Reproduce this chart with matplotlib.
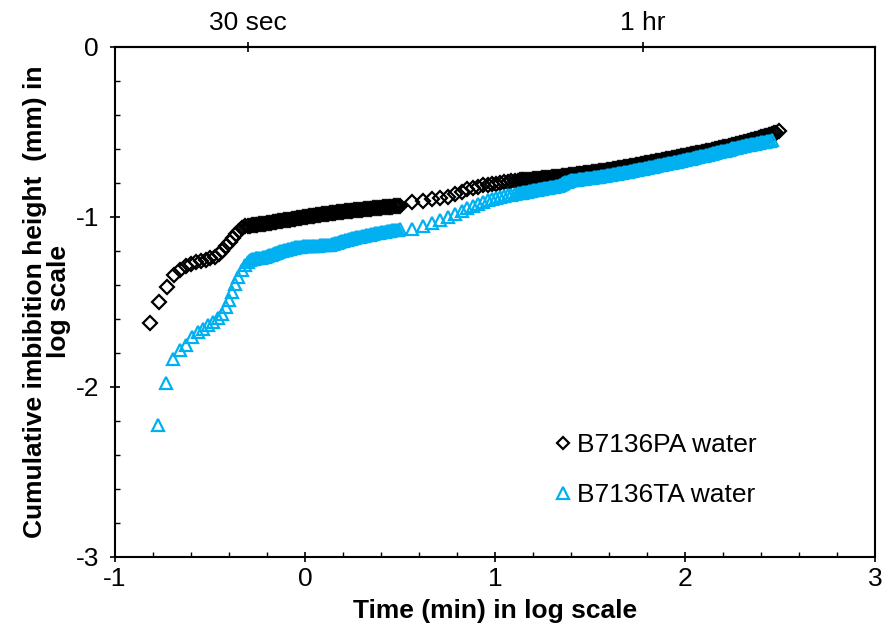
import numpy as np
import matplotlib
matplotlib.use("Agg")
import matplotlib.pyplot as plt
from matplotlib.ticker import MultipleLocator

# ---- datos (log10 tiempo [min], log10 altura [mm]) ----
# tramo inicial, muestras separadas
pa_logt_ini = [-0.818, -0.770, -0.728, -0.691, -0.658, -0.628, -0.599, -0.572, -0.546, -0.521, -0.498,
               -0.476, -0.455, -0.435, -0.416, -0.397, -0.379, -0.362, -0.346, -0.331, -0.316, -0.301]
pa_logh_ini = [-1.625, -1.500, -1.412, -1.343, -1.309, -1.291, -1.275, -1.263, -1.256, -1.251, -1.244,
               -1.233, -1.218, -1.198, -1.173, -1.148, -1.123, -1.100, -1.080, -1.064, -1.055, -1.051]

ta_logt_ini = [-0.772, -0.730, -0.693, -0.658, -0.625, -0.595, -0.565, -0.537, -0.510, -0.484,
               -0.458, -0.437, -0.418, -0.400, -0.383, -0.366, -0.350, -0.334, -0.318, -0.302]
ta_logh_ini = [-2.224, -1.978, -1.838, -1.782, -1.753, -1.703, -1.677, -1.656, -1.636, -1.617,
               -1.597, -1.568, -1.528, -1.488, -1.440, -1.392, -1.352, -1.313, -1.283, -1.262]

# banda densa (30 s a 3 min)
logt_banda = [-0.29, -0.28, -0.27, -0.26, -0.25, -0.24, -0.23, -0.22, -0.21, -0.20,
              -0.19, -0.18, -0.17, -0.16, -0.15, -0.14, -0.13, -0.12, -0.11, -0.10,
              -0.09, -0.08, -0.07, -0.06, -0.05, -0.04, -0.03, -0.02, -0.01, 0.00,
              0.01, 0.02, 0.03, 0.04, 0.05, 0.06, 0.07, 0.08, 0.09, 0.10,
              0.11, 0.12, 0.13, 0.14, 0.15, 0.16, 0.17, 0.18, 0.19, 0.20,
              0.21, 0.22, 0.23, 0.24, 0.25, 0.26, 0.27, 0.28, 0.29, 0.30,
              0.31, 0.32, 0.33, 0.34, 0.35, 0.36, 0.37, 0.38, 0.39, 0.40,
              0.41, 0.42, 0.43, 0.44, 0.45, 0.46, 0.47, 0.48, 0.49, 0.50]
pa_logh_banda = [-1.050, -1.049, -1.047, -1.046, -1.045, -1.044, -1.042, -1.041, -1.039, -1.037,
                 -1.035, -1.033, -1.031, -1.029, -1.027, -1.025, -1.024, -1.022, -1.020, -1.019,
                 -1.017, -1.015, -1.013, -1.011, -1.009, -1.007, -1.005, -1.004, -1.002, -1.000,
                 -0.998, -0.997, -0.995, -0.993, -0.992, -0.990, -0.988, -0.987, -0.985, -0.984,
                 -0.982, -0.980, -0.978, -0.977, -0.975, -0.974, -0.972, -0.971, -0.970, -0.968,
                 -0.967, -0.966, -0.964, -0.963, -0.962, -0.961, -0.959, -0.958, -0.957, -0.956,
                 -0.955, -0.954, -0.953, -0.952, -0.950, -0.949, -0.948, -0.947, -0.946, -0.945,
                 -0.944, -0.943, -0.942, -0.941, -0.940, -0.939, -0.937, -0.936, -0.935, -0.933]
ta_logh_banda = [-1.255, -1.248, -1.245, -1.243, -1.242, -1.240, -1.239, -1.237, -1.234, -1.230,
                 -1.226, -1.222, -1.218, -1.214, -1.210, -1.206, -1.202, -1.199, -1.195, -1.192,
                 -1.189, -1.186, -1.183, -1.181, -1.179, -1.177, -1.175, -1.174, -1.173, -1.172,
                 -1.171, -1.170, -1.170, -1.169, -1.169, -1.168, -1.168, -1.167, -1.167, -1.166,
                 -1.165, -1.164, -1.162, -1.160, -1.157, -1.154, -1.151, -1.148, -1.144, -1.141,
                 -1.138, -1.135, -1.132, -1.129, -1.126, -1.123, -1.120, -1.118, -1.115, -1.113,
                 -1.110, -1.108, -1.106, -1.104, -1.101, -1.099, -1.097, -1.095, -1.093, -1.091,
                 -1.089, -1.087, -1.085, -1.083, -1.081, -1.079, -1.077, -1.075, -1.074, -1.072]

# cada 30 s (3.7 a 13 min)
logt_30s = [0.564, 0.620, 0.669, 0.713, 0.753, 0.790, 0.824, 0.855, 0.885, 0.912,
            0.938, 0.962, 0.985, 1.007, 1.028, 1.048, 1.067, 1.085, 1.103, 1.120]
pa_logh_30s = [-0.912, -0.903, -0.897, -0.890, -0.880, -0.867, -0.850, -0.836, -0.828, -0.821,
               -0.814, -0.810, -0.806, -0.803, -0.800, -0.797, -0.794, -0.791, -0.788, -0.786]
ta_logh_30s = [-1.070, -1.050, -1.035, -1.020, -1.000, -0.982, -0.965, -0.948, -0.933, -0.921,
               -0.911, -0.902, -0.895, -0.889, -0.883, -0.878, -0.873, -0.868, -0.863, -0.859]

# tramo final (13 min a 5 h)
logt_fin = [1.13, 1.14, 1.15, 1.16, 1.17, 1.18, 1.19, 1.20, 1.21, 1.22,
            1.23, 1.24, 1.25, 1.26, 1.27, 1.28, 1.29, 1.30, 1.31, 1.32,
            1.33, 1.34, 1.35, 1.36, 1.37, 1.38, 1.39, 1.40, 1.41, 1.42,
            1.43, 1.44, 1.45, 1.46, 1.47, 1.48, 1.49, 1.50, 1.51, 1.52,
            1.53, 1.54, 1.55, 1.56, 1.57, 1.58, 1.59, 1.60, 1.61, 1.62,
            1.63, 1.64, 1.65, 1.66, 1.67, 1.68, 1.69, 1.70, 1.71, 1.72,
            1.73, 1.74, 1.75, 1.76, 1.77, 1.78, 1.79, 1.80, 1.81, 1.82,
            1.83, 1.84, 1.85, 1.86, 1.87, 1.88, 1.89, 1.90, 1.91, 1.92,
            1.93, 1.94, 1.95, 1.96, 1.97, 1.98, 1.99, 2.00, 2.01, 2.02,
            2.03, 2.04, 2.05, 2.06, 2.07, 2.08, 2.09, 2.10, 2.11, 2.12,
            2.13, 2.14, 2.15, 2.16, 2.17, 2.18, 2.19, 2.20, 2.21, 2.22,
            2.23, 2.24, 2.25, 2.26, 2.27, 2.28, 2.29, 2.30, 2.31, 2.32,
            2.33, 2.34, 2.35, 2.36, 2.37, 2.38, 2.39, 2.40, 2.41, 2.42,
            2.43, 2.44, 2.45, 2.46, 2.47, 2.48, 2.495]
pa_logh_fin = [-0.785, -0.784, -0.783, -0.782, -0.782, -0.781, -0.780, -0.779, -0.778, -0.777,
               -0.775, -0.774, -0.773, -0.772, -0.770, -0.769, -0.768, -0.767, -0.765, -0.764,
               -0.763, -0.762, -0.760, -0.759, -0.758, -0.757, -0.755, -0.754, -0.752, -0.751,
               -0.749, -0.748, -0.746, -0.745, -0.743, -0.742, -0.740, -0.739, -0.737, -0.736,
               -0.734, -0.733, -0.731, -0.730, -0.728, -0.727, -0.725, -0.723, -0.721, -0.719,
               -0.717, -0.715, -0.713, -0.711, -0.710, -0.708, -0.706, -0.704, -0.702, -0.700,
               -0.698, -0.696, -0.694, -0.692, -0.689, -0.687, -0.685, -0.683, -0.681, -0.679,
               -0.676, -0.674, -0.672, -0.670, -0.668, -0.666, -0.663, -0.661, -0.659, -0.657,
               -0.655, -0.653, -0.650, -0.648, -0.646, -0.644, -0.641, -0.639, -0.637, -0.635,
               -0.632, -0.630, -0.628, -0.626, -0.623, -0.621, -0.618, -0.616, -0.614, -0.612,
               -0.609, -0.606, -0.604, -0.601, -0.599, -0.596, -0.594, -0.591, -0.589, -0.586,
               -0.583, -0.580, -0.578, -0.575, -0.573, -0.570, -0.567, -0.564, -0.561, -0.558,
               -0.555, -0.552, -0.549, -0.546, -0.543, -0.539, -0.536, -0.532, -0.529, -0.525,
               -0.522, -0.518, -0.515, -0.511, -0.507, -0.503, -0.495]
ta_logh_fin = [-0.858, -0.856, -0.854, -0.852, -0.850, -0.848, -0.846, -0.844, -0.842, -0.840,
               -0.838, -0.836, -0.834, -0.832, -0.830, -0.828, -0.826, -0.823, -0.821, -0.818,
               -0.815, -0.811, -0.807, -0.802, -0.797, -0.792, -0.788, -0.785, -0.783, -0.781,
               -0.780, -0.778, -0.777, -0.775, -0.774, -0.772, -0.771, -0.769, -0.768, -0.766,
               -0.765, -0.763, -0.762, -0.760, -0.759, -0.757, -0.755, -0.753, -0.751, -0.749,
               -0.747, -0.745, -0.743, -0.741, -0.739, -0.737, -0.735, -0.733, -0.731, -0.728,
               -0.726, -0.724, -0.721, -0.719, -0.717, -0.715, -0.712, -0.710, -0.708, -0.706,
               -0.703, -0.701, -0.699, -0.697, -0.694, -0.692, -0.690, -0.688, -0.685, -0.683,
               -0.681, -0.679, -0.676, -0.674, -0.671, -0.669, -0.666, -0.664, -0.661, -0.659,
               -0.656, -0.654, -0.651, -0.649, -0.646, -0.644, -0.641, -0.639, -0.636, -0.634,
               -0.631, -0.628, -0.625, -0.623, -0.620, -0.617, -0.614, -0.612, -0.609, -0.606,
               -0.603, -0.600, -0.597, -0.594, -0.592, -0.589, -0.587, -0.584, -0.582, -0.579,
               -0.577, -0.575, -0.573, -0.570, -0.568, -0.566, -0.564, -0.561, -0.559, -0.557,
               -0.555, -0.552, -0.550, -0.548]

serie_pa = "B7136PA water"
serie_ta = "B7136TA water"
top_tick_min = [0.5, 60]          # 30 s y 1 h en minutos
top_tick_labels = ["30 sec", "1 hr"]

# ---- estilo ----
plt.rcParams['font.family'] = ['Liberation Sans', 'DejaVu Sans']
plt.rcParams['font.size'] = 19
plt.rcParams['axes.unicode_minus'] = False
azul = '#00B0F0'

fig = plt.figure(figsize=(8.87, 6.33), dpi=100)
ax = fig.add_axes([115 / 887, 1 - 557 / 633, 760 / 887, 510 / 633])

x_pa = pa_logt_ini + logt_banda + logt_30s + logt_fin[:len(pa_logh_fin)]
y_pa = pa_logh_ini + pa_logh_banda + pa_logh_30s + pa_logh_fin
x_ta = ta_logt_ini + logt_banda + logt_30s + logt_fin[:len(ta_logh_fin)]
y_ta = ta_logh_ini + ta_logh_banda + ta_logh_30s + ta_logh_fin

ax.plot(x_pa, y_pa, ls='none', marker='D', ms=6.8, mfc='none', mec='black', mew=1.6,
        label=serie_pa)
ax.plot(x_ta, y_ta, ls='none', marker='^', ms=9.2, mfc='none', mec=azul, mew=1.6,
        label=serie_ta)

ax.set_xlim(-1, 3)
ax.set_ylim(-3, 0)
ax.xaxis.set_major_locator(MultipleLocator(1))
ax.xaxis.set_minor_locator(MultipleLocator(0.2))
ax.yaxis.set_major_locator(MultipleLocator(1))
ax.yaxis.set_minor_locator(MultipleLocator(0.2))
ax.tick_params(which='major', direction='inout', length=7, width=1.2, pad=4)
ax.tick_params(which='minor', direction='in', length=3.5, width=1)
ax.tick_params(axis='y', which='major', pad=8)
for sp in ax.spines.values():
    sp.set_linewidth(1.5)

ax.set_xlabel("Time (min) in log scale", fontweight='bold')
ax.xaxis.set_label_coords(0.5, -0.082)
ax.set_ylabel("Cumulative imbibition height  (mm) in\nlog scale", fontweight='bold',
              linespacing=1.0)
ax.yaxis.set_label_coords(-0.058, 0.5)

# eje superior con referencias de tiempo
ax_top = ax.secondary_xaxis('top')
ax_top.set_xticks(np.log10(top_tick_min), labels=top_tick_labels)
ax_top.tick_params(direction='inout', length=7, width=1.2, pad=5)
ax_top.spines['top'].set_linewidth(1.5)

ax.legend(loc='upper left', bbox_to_anchor=(0.579, 0.243), frameon=False,
          handlelength=0.6, handletextpad=0.25, labelspacing=1.0,
          borderaxespad=0, borderpad=0, markerscale=0.9)

fig.savefig('out.png', dpi=100)
